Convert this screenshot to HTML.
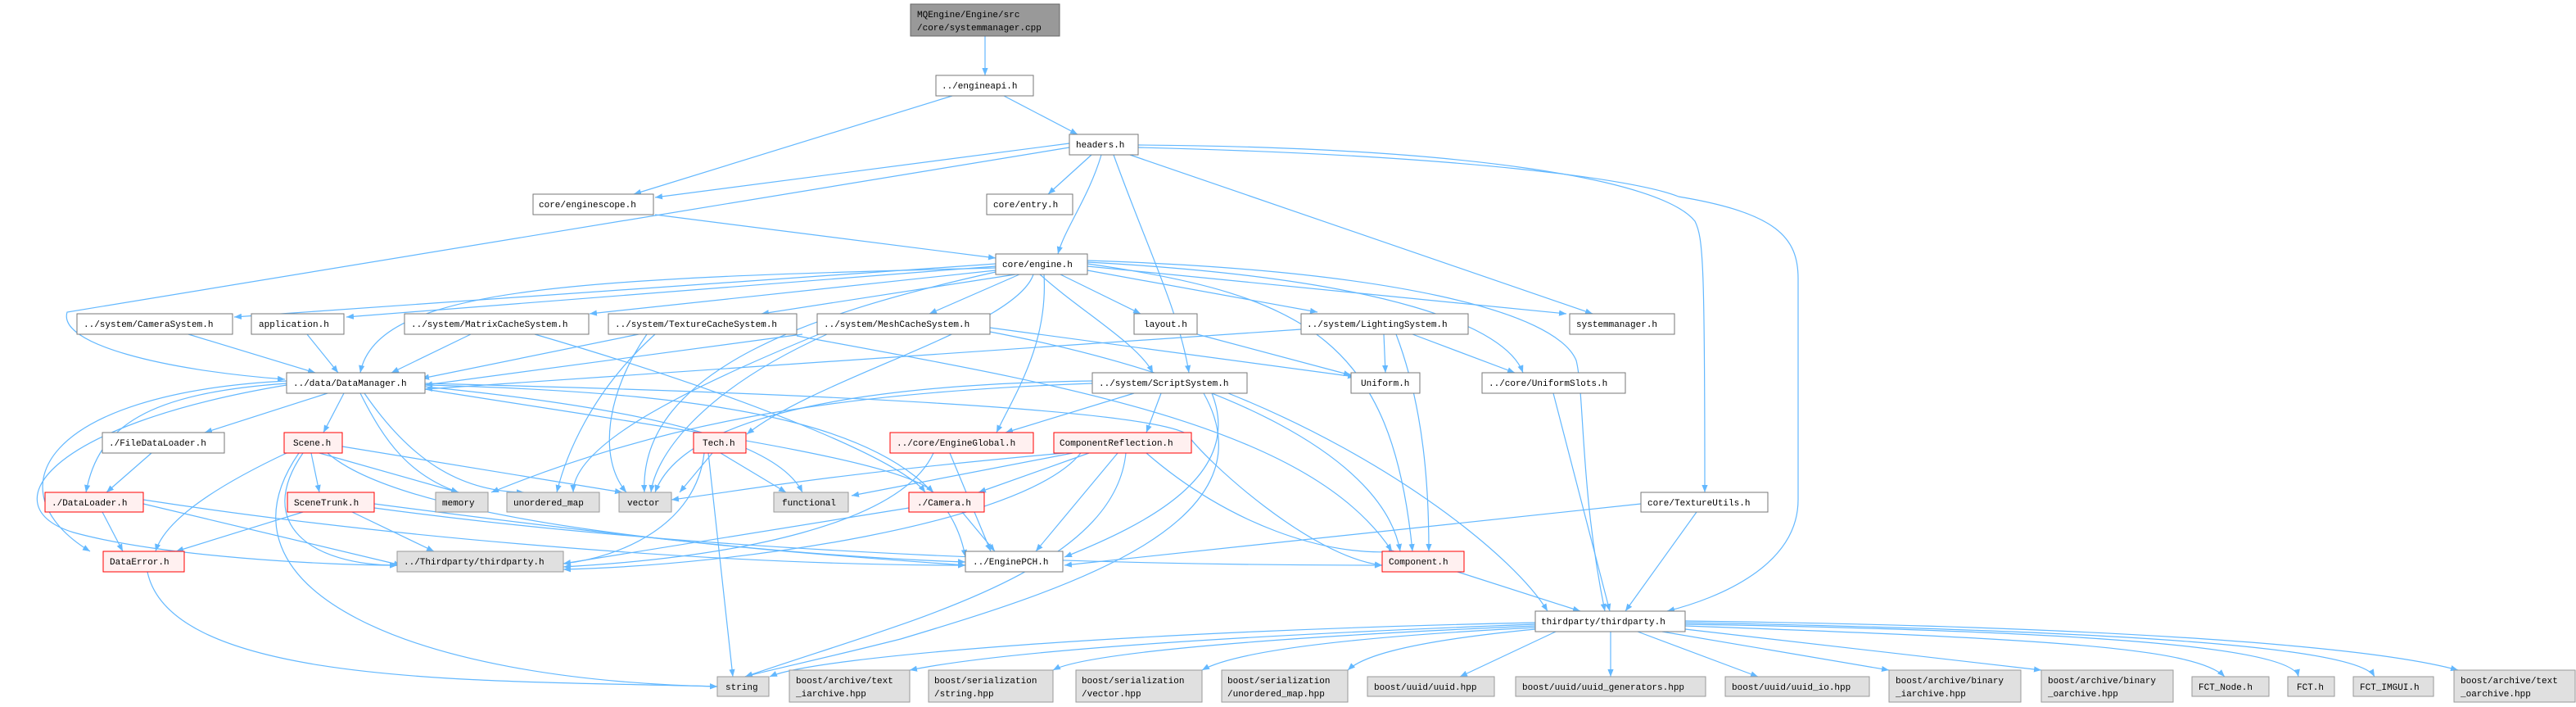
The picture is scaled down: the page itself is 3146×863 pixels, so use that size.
<!DOCTYPE html>
<html><head><meta charset="utf-8"><style>
html,body{margin:0;padding:0;background:#fff;}
svg{display:block}
text{font-family:"Liberation Mono",monospace;font-size:11px;fill:#000;}
.e{fill:none;stroke:#63b8ff;stroke-width:1.2}
.n{fill:#fff;stroke:#777;stroke-width:1}
.r{fill:#fff0f0;stroke:#f00;stroke-width:1}
.g{fill:#e0e0e0;stroke:#999;stroke-width:1}
.root{fill:#999;stroke:#666;stroke-width:1}
</style></head><body>
<svg width="3146" height="863" viewBox="0 0 3146 863" xmlns="http://www.w3.org/2000/svg">
<defs><marker id="a" viewBox="0 0 10 10" refX="10" refY="5" markerWidth="9" markerHeight="9" orient="auto" markerUnits="userSpaceOnUse"><path d="M0,1 L10,5 L0,9 z" fill="#63b8ff"/></marker></defs>
<g marker-end="url(#a)">
<path class="e" d="M1203,44 L1203,92"/>
<path class="e" d="M1163,117 L774,237"/>
<path class="e" d="M1226,117 L1316,164"/>
<path class="e" d="M1306,175 L800,241"/>
<path class="e" d="M1306,180 L82,381 C70,420 200,452 348,463"/>
<path class="e" d="M1333,189 L1280,237"/>
<path class="e" d="M1345,189 C1330,240 1300,280 1292,310"/>
<path class="e" d="M1360,189 C1400,300 1440,380 1452,455"/>
<path class="e" d="M1380,189 L1945,383"/>
<path class="e" d="M1390,177 C1800,180 2030,220 2070,270 C2080,290 2082,320 2082,601"/>
<path class="e" d="M1390,180 C1800,190 2000,220 2050,240 C2170,260 2196,290 2196,340 L2196,610 C2196,690 2100,730 2036,746"/>
<path class="e" d="M800,262 L1216,315"/>
<path class="e" d="M1216,322 L286,387"/>
<path class="e" d="M1216,325 L423,387"/>
<path class="e" d="M1216,327 C700,340 460,350 440,455"/>
<path class="e" d="M1216,330 L720,383"/>
<path class="e" d="M1240,335 L930,383"/>
<path class="e" d="M1245,335 L1135,383"/>
<path class="e" d="M1295,335 L1393,383"/>
<path class="e" d="M1328,330 L1609,381"/>
<path class="e" d="M1328,325 L1913,383"/>
<path class="e" d="M1270,335 C1320,380 1390,420 1408,455"/>
<path class="e" d="M1262,335 C1240,400 1000,460 912,530"/>
<path class="e" d="M1275,335 C1280,420 1240,480 1217,528"/>
<path class="e" d="M1328,320 C1700,340 1840,400 1860,455"/>
<path class="e" d="M1328,318 C1700,330 1900,380 1925,440 C1935,480 1930,600 1960,746"/>
<path class="e" d="M1328,322 C1600,360 1700,420 1725,673"/>
<path class="e" d="M1216,332 C1000,380 780,450 787,601"/>
<path class="e" d="M230,408 L385,455"/>
<path class="e" d="M375,408 L413,455"/>
<path class="e" d="M575,408 L478,455"/>
<path class="e" d="M653,408 C900,480 1100,560 1130,601"/>
<path class="e" d="M780,408 L515,462"/>
<path class="e" d="M800,408 C720,480 690,560 680,601"/>
<path class="e" d="M790,408 C740,480 730,560 765,601"/>
<path class="e" d="M973,410 C1300,470 1600,520 1700,673"/>
<path class="e" d="M980,408 L519,470"/>
<path class="e" d="M1000,408 C850,470 700,540 700,601"/>
<path class="e" d="M1010,408 C850,480 800,560 795,601"/>
<path class="e" d="M1209,405 C1500,460 1690,560 1710,673"/>
<path class="e" d="M1209,400 L1655,460"/>
<path class="e" d="M1462,408 L1650,458"/>
<path class="e" d="M1690,408 L1692,455"/>
<path class="e" d="M1725,408 L1850,455"/>
<path class="e" d="M1705,408 C1740,500 1745,600 1745,673"/>
<path class="e" d="M1589,402 L519,475"/>
<path class="e" d="M1897,480 L1966,746"/>
<path class="e" d="M400,480 L250,528"/>
<path class="e" d="M420,480 L395,528"/>
<path class="e" d="M350,468 C180,480 120,520 105,601"/>
<path class="e" d="M350,465 C50,480 -10,600 110,673"/>
<path class="e" d="M350,470 C50,520 -10,620 90,650 C200,680 400,690 485,690"/>
<path class="e" d="M440,480 C470,540 500,580 560,601"/>
<path class="e" d="M445,480 C500,560 560,600 640,601"/>
<path class="e" d="M519,472 C800,500 950,540 980,601"/>
<path class="e" d="M519,475 C800,520 1100,560 1140,601"/>
<path class="e" d="M519,470 C900,480 1150,520 1179,680"/>
<path class="e" d="M519,468 C1000,480 1400,500 1450,530 C1470,560 1600,680 1688,690"/>
<path class="e" d="M1334,465 C1000,470 830,520 800,601"/>
<path class="e" d="M1334,468 C1000,480 800,520 600,601"/>
<path class="e" d="M1385,480 L1228,528"/>
<path class="e" d="M1418,480 L1400,528"/>
<path class="e" d="M1480,480 C1520,580 1400,640 1300,680"/>
<path class="e" d="M1470,480 C1560,640 1300,720 1100,780 C980,810 930,820 910,826"/>
<path class="e" d="M1500,480 C1700,560 1850,680 1890,746"/>
<path class="e" d="M185,553 L130,601"/>
<path class="e" d="M380,553 L390,601"/>
<path class="e" d="M390,553 L560,601"/>
<path class="e" d="M418,545 L760,601"/>
<path class="e" d="M350,553 C250,600 200,640 190,673"/>
<path class="e" d="M370,553 C310,640 380,690 485,690"/>
<path class="e" d="M365,553 C250,720 500,830 876,838"/>
<path class="e" d="M400,553 C500,640 900,670 1179,690"/>
<path class="e" d="M870,553 L830,601"/>
<path class="e" d="M880,553 L960,601"/>
<path class="e" d="M860,553 C850,640 760,680 688,688"/>
<path class="e" d="M865,553 L895,826"/>
<path class="e" d="M1140,553 C1100,640 900,680 688,692"/>
<path class="e" d="M1160,553 L1210,673"/>
<path class="e" d="M1300,553 C1000,580 900,600 820,610"/>
<path class="e" d="M1310,553 L1040,605"/>
<path class="e" d="M1330,553 L1195,601"/>
<path class="e" d="M1320,553 C1250,640 900,690 688,695"/>
<path class="e" d="M1365,553 L1265,673"/>
<path class="e" d="M1375,553 C1360,700 1100,760 910,826"/>
<path class="e" d="M1400,553 C1500,640 1620,680 1705,673"/>
<path class="e" d="M175,615 L490,690"/>
<path class="e" d="M125,625 L150,673"/>
<path class="e" d="M175,610 C500,660 900,690 1179,690"/>
<path class="e" d="M370,625 L215,673"/>
<path class="e" d="M430,625 L530,673"/>
<path class="e" d="M457,615 C800,660 1000,680 1179,686"/>
<path class="e" d="M457,620 C900,680 1400,690 1688,690"/>
<path class="e" d="M1110,620 L688,688"/>
<path class="e" d="M1175,625 L1215,673"/>
<path class="e" d="M2004,615 L1300,690"/>
<path class="e" d="M2072,625 L1985,746"/>
<path class="e" d="M180,698 C210,840 600,830 876,838"/>
<path class="e" d="M1780,698 L1930,746"/>
<path class="e" d="M1875,760 C1400,770 1000,800 940,826"/>
<path class="e" d="M1875,762 C1400,780 1200,800 1111,818"/>
<path class="e" d="M1875,764 C1500,780 1320,800 1286,818"/>
<path class="e" d="M1875,766 C1600,780 1500,800 1468,818"/>
<path class="e" d="M1875,768 C1700,785 1660,805 1646,818"/>
<path class="e" d="M1900,771 L1783,826"/>
<path class="e" d="M1967,771 L1967,826"/>
<path class="e" d="M2000,771 L2147,826"/>
<path class="e" d="M2030,771 L2307,818"/>
<path class="e" d="M2058,768 L2493,818"/>
<path class="e" d="M2058,764 C2500,780 2680,790 2717,826"/>
<path class="e" d="M2058,762 C2550,770 2800,790 2807,826"/>
<path class="e" d="M2058,760 C2600,770 2880,790 2900,826"/>
<path class="e" d="M2058,758 C2600,765 2900,790 3002,818"/>
</g>
<!-- nodes -->
<rect class="root" x="1112" y="5" width="182" height="39"/>
<text x="1120" y="21">MQEngine/Engine/src</text><text x="1120" y="37">/core/systemmanager.cpp</text>
<g>
<rect class="n" x="1143" y="92" width="119" height="25"/><text x="1150" y="108">../engineapi.h</text>
<rect class="n" x="1306" y="164" width="84" height="25"/><text x="1314" y="180">headers.h</text>
<rect class="n" x="651" y="237" width="147" height="25"/><text x="658" y="253">core/enginescope.h</text>
<rect class="n" x="1205" y="237" width="105" height="25"/><text x="1213" y="253">core/entry.h</text>
<rect class="n" x="1216" y="310" width="112" height="25"/><text x="1224" y="326">core/engine.h</text>
<rect class="n" x="94" y="383" width="190" height="25"/><text x="102" y="399">../system/CameraSystem.h</text>
<rect class="n" x="307" y="383" width="113" height="25"/><text x="316" y="399">application.h</text>
<rect class="n" x="494" y="383" width="225" height="25"/><text x="502" y="399">../system/MatrixCacheSystem.h</text>
<rect class="n" x="743" y="383" width="230" height="25"/><text x="751" y="399">../system/TextureCacheSystem.h</text>
<rect class="n" x="998" y="383" width="211" height="25"/><text x="1006" y="399">../system/MeshCacheSystem.h</text>
<rect class="n" x="1385" y="383" width="77" height="25"/><text x="1397" y="399">layout.h</text>
<rect class="n" x="1589" y="383" width="204" height="25"/><text x="1596" y="399">../system/LightingSystem.h</text>
<rect class="n" x="1917" y="383" width="128" height="25"/><text x="1925" y="399">systemmanager.h</text>
<rect class="n" x="350" y="455" width="169" height="25"/><text x="358" y="471">../data/DataManager.h</text>
<rect class="n" x="1334" y="455" width="189" height="25"/><text x="1342" y="471">../system/ScriptSystem.h</text>
<rect class="n" x="1650" y="455" width="84" height="25"/><text x="1662" y="471">Uniform.h</text>
<rect class="n" x="1810" y="455" width="175" height="25"/><text x="1818" y="471">../core/UniformSlots.h</text>
<rect class="n" x="125" y="528" width="149" height="25"/><text x="133" y="544">./FileDataLoader.h</text>
<rect class="r" x="347" y="528" width="71" height="25"/><text x="358" y="544">Scene.h</text>
<rect class="r" x="847" y="528" width="64" height="25"/><text x="858" y="544">Tech.h</text>
<rect class="r" x="1087" y="528" width="175" height="25"/><text x="1095" y="544">../core/EngineGlobal.h</text>
<rect class="r" x="1287" y="528" width="168" height="25"/><text x="1294" y="544">ComponentReflection.h</text>
<rect class="r" x="55" y="601" width="120" height="24"/><text x="63" y="617">./DataLoader.h</text>
<rect class="r" x="351" y="601" width="106" height="24"/><text x="359" y="617">SceneTrunk.h</text>
<rect class="g" x="532" y="601" width="64" height="24"/><text x="540" y="617">memory</text>
<rect class="g" x="619" y="601" width="113" height="24"/><text x="627" y="617">unordered_map</text>
<rect class="g" x="756" y="601" width="64" height="24"/><text x="766" y="617">vector</text>
<rect class="g" x="945" y="601" width="91" height="24"/><text x="955" y="617">functional</text>
<rect class="r" x="1110" y="601" width="92" height="24"/><text x="1120" y="617">./Camera.h</text>
<rect class="n" x="2004" y="601" width="155" height="24"/><text x="2012" y="617">core/TextureUtils.h</text>
<rect class="r" x="126" y="673" width="99" height="25"/><text x="134" y="689">DataError.h</text>
<rect class="g" x="485" y="673" width="203" height="25"/><text x="493" y="689">../Thirdparty/thirdparty.h</text>
<rect class="n" x="1179" y="673" width="119" height="25"/><text x="1188" y="689">../EnginePCH.h</text>
<rect class="r" x="1688" y="673" width="100" height="25"/><text x="1696" y="689">Component.h</text>
<rect class="n" x="1875" y="746" width="183" height="25"/><text x="1882" y="762">thirdparty/thirdparty.h</text>
<rect class="g" x="876" y="826" width="63" height="24"/><text x="886" y="842">string</text>
<rect class="g" x="964" y="818" width="147" height="39"/><text x="972" y="834">boost/archive/text</text><text x="972" y="850">_iarchive.hpp</text>
<rect class="g" x="1134" y="818" width="152" height="39"/><text x="1141" y="834">boost/serialization</text><text x="1141" y="850">/string.hpp</text>
<rect class="g" x="1314" y="818" width="154" height="39"/><text x="1321" y="834">boost/serialization</text><text x="1321" y="850">/vector.hpp</text>
<rect class="g" x="1492" y="818" width="154" height="39"/><text x="1499" y="834">boost/serialization</text><text x="1499" y="850">/unordered_map.hpp</text>
<rect class="g" x="1670" y="826" width="155" height="24"/><text x="1678" y="842">boost/uuid/uuid.hpp</text>
<rect class="g" x="1851" y="826" width="232" height="24"/><text x="1859" y="842">boost/uuid/uuid_generators.hpp</text>
<rect class="g" x="2107" y="826" width="176" height="24"/><text x="2115" y="842">boost/uuid/uuid_io.hpp</text>
<rect class="g" x="2307" y="818" width="161" height="39"/><text x="2315" y="834">boost/archive/binary</text><text x="2315" y="850">_iarchive.hpp</text>
<rect class="g" x="2493" y="818" width="161" height="39"/><text x="2501" y="834">boost/archive/binary</text><text x="2501" y="850">_oarchive.hpp</text>
<rect class="g" x="2677" y="826" width="94" height="24"/><text x="2685" y="842">FCT_Node.h</text>
<rect class="g" x="2794" y="826" width="57" height="24"/><text x="2805" y="842">FCT.h</text>
<rect class="g" x="2874" y="826" width="98" height="24"/><text x="2882" y="842">FCT_IMGUI.h</text>
<rect class="g" x="2997" y="818" width="148" height="39"/><text x="3005" y="834">boost/archive/text</text><text x="3005" y="850">_oarchive.hpp</text>
</g>
</svg>
</body></html>
